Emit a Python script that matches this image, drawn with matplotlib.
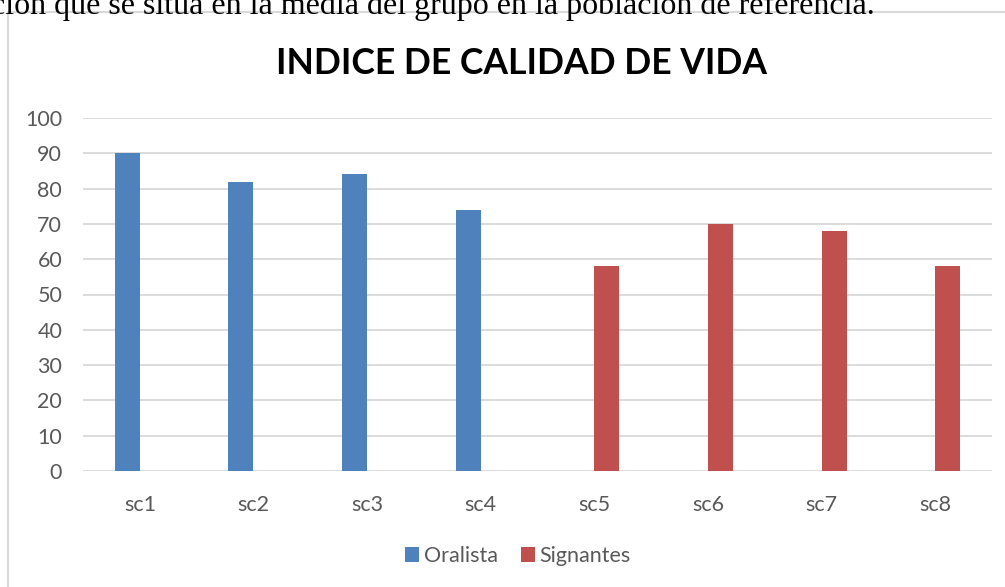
import matplotlib
matplotlib.use("Agg")
import matplotlib.pyplot as plt
import numpy as np
from matplotlib.patches import Rectangle

categories = ["sc1", "sc2", "sc3", "sc4", "sc5", "sc6", "sc7", "sc8"]
oralista = [90, 82, 84, 74, 0, 0, 0, 0]
signantes = [0, 0, 0, 0, 58, 70, 68, 58]
yticks = [0, 10, 20, 30, 40, 50, 60, 70, 80, 90, 100]

W, H = 1005, 587
fig = plt.figure(figsize=(W/100, H/100), dpi=100)
fig.patch.set_facecolor("white")

# chart frame border
fig.patches.append(Rectangle((8/W, -0.1), 1.2, (H-12)/H + 0.1, transform=fig.transFigure,
                             fill=False, edgecolor="#D9D9D9", linewidth=1.5))

# document text above (cropped at the top, as in the reference)
fig.text(-9/W, 1 - 14/H, "ción que se sitúa en la media del grupo en la población de referencia.",
         family="Liberation Serif", fontsize=23, color="black", va="baseline", ha="left")

ax = fig.add_axes([83/W, (H-471)/H, (992-83)/W, (471-118)/H])
x = np.arange(len(categories))
bw = 0.22
ax.bar(x - bw/2, oralista, bw, color="#4F81BD", label="Oralista", zorder=3)
ax.bar(x + bw/2, signantes, bw, color="#C0504D", label="Signantes", zorder=3)

ax.set_xlim(-0.5, len(categories) - 0.5)
ax.set_ylim(0, 100)
ax.set_yticks(yticks)
ax.set_xticks(x)
ax.set_xticklabels(categories)
for s in ax.spines.values():
    s.set_visible(False)
ax.yaxis.grid(True, color="#D9D9D9", linewidth=1.3, zorder=0)
ax.tick_params(axis="both", length=0, colors="#595959", labelsize=15.5)
ax.tick_params(axis="x", pad=17)
ax.tick_params(axis="y", pad=15)
for lbl in ax.get_xticklabels() + ax.get_yticklabels():
    lbl.set_family("Lato")

fig.text(521/W, 1 - 64/H, "INDICE DE CALIDAD DE VIDA", family="Lato", fontweight="bold",
         fontsize=25.6, color="black", ha="center", va="center")

leg = fig.legend(loc="center", bbox_to_anchor=(518/W, 1 - 556/H), ncol=2, frameon=False,
                 prop={"family": "Lato", "size": 15.5}, handlelength=0.65, handleheight=0.65,
                 handletextpad=0.2, columnspacing=1.1)
for t in leg.get_texts():
    t.set_color("#595959")

fig.savefig("out.png", dpi=100)
